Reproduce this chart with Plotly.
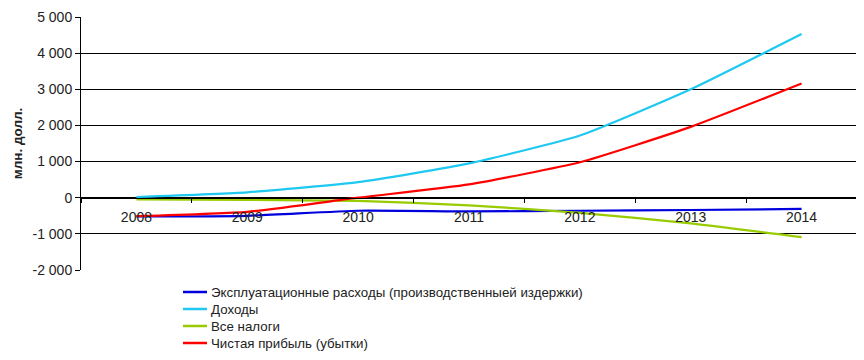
import plotly.graph_objects as go

years = ["2008", "2009", "2010", "2011", "2012", "2013", "2014"]
expenses = [-520, -500, -360, -380, -360, -340, -310]
income = [20, 150, 430, 950, 1720, 3000, 4530]
taxes = [-50, -60, -90, -210, -420, -710, -1090]
profit = [-510, -390, 0, 370, 980, 1960, 3160]

names = ["Эксплуатационные расходы (производственныей издержки)",
         "Доходы", "Все налоги", "Чистая прибыль (убытки)"]
series = [expenses, income, taxes, profit]
colors = ["#0000dd", "#1ec8f0", "#99cc00", "#ff0000"]

yticks = [-2000, -1000, 0, 1000, 2000, 3000, 4000, 5000]
yticktext = ["-2 000", "-1 000", "0", "1 000", "2 000", "3 000", "4 000", "5 000"]

# page has an 8px body margin, so the figure is laid out 8px smaller
OFF = 8
W, H = 864 - OFF, 360 - OFF
L, R, T, B = 81 - OFF, 7, 17 - OFF, 90
PW, PH = W - L - R, H - T - B

def px(x):
    return (x - OFF - L) / PW

def py(y):
    return (H - B - (y - OFF)) / PH

fig = go.Figure()
for n, s, c in zip(names, series, colors):
    fig.add_trace(go.Scatter(x=years, y=s, name=n, mode="lines", showlegend=False,
                             line=dict(color=c, width=2.2, shape="spline", smoothing=0.5)))

# legend drawn as line samples + text rows
for i, (n, c) in enumerate(zip(names, colors)):
    yy = 292 + 17 * i
    fig.add_shape(type="line", xref="paper", yref="paper",
                  x0=px(183), x1=px(207), y0=py(yy), y1=py(yy),
                  line=dict(color=c, width=2.5))
    fig.add_annotation(xref="paper", yref="paper", x=px(209), y=py(yy),
                       xanchor="left", yanchor="middle", text=n, showarrow=False,
                       font=dict(size=13.3, color="#222"))

fig.update_layout(
    width=W, height=H,
    margin=dict(l=L, r=R, t=T, b=B),
    plot_bgcolor="white", paper_bgcolor="white",
    font=dict(family="Liberation Sans, Arial", size=14, color="#222"),
    showlegend=False,
    xaxis=dict(type="category", tickson="boundaries", ticks="outside", ticklen=4,
               tickcolor="black", showline=True, linecolor="black", linewidth=1,
               anchor="free", position=2/7, showgrid=False, zeroline=False,
               ticklabelstandoff=6, automargin=False,
               range=[-0.5, 6.5], tickfont=dict(size=14, color="#222")),
    yaxis=dict(range=[-2000, 5000], tickvals=yticks, ticktext=yticktext,
               showgrid=True, gridcolor="black", gridwidth=1, zeroline=False,
               showline=True, linecolor="black", ticks="outside", ticklen=5,
               tickcolor="black", domain=[0, 1], automargin=False,
               title=dict(text="<b>млн. долл.</b>", font=dict(size=13.5, color="#222"), standoff=6),
               tickfont=dict(size=14, color="#222")),
)

fig.write_html("out.html")
